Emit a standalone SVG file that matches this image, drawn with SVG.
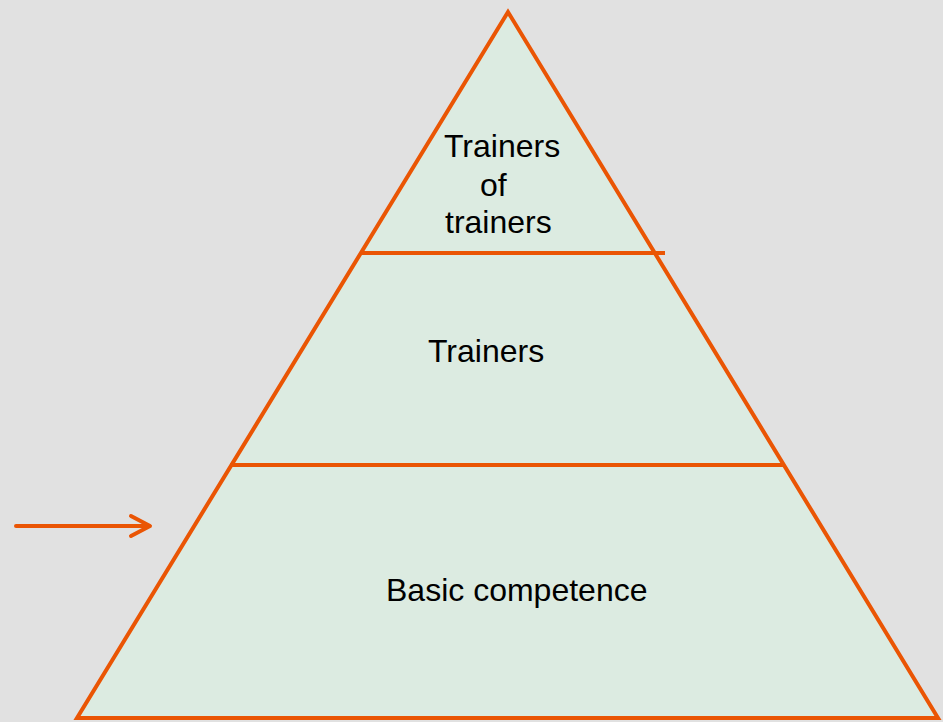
<svg xmlns="http://www.w3.org/2000/svg" width="943" height="722" viewBox="0 0 943 722">
<style>
.ln{stroke:#ea5504;stroke-width:4;fill:none}
.t{font-family:"Liberation Sans",Arial,sans-serif;font-size:32px;fill:#000}
</style>
<rect width="943" height="722" fill="#e1e1e1"/>
<g id="pyramid">
<polygon points="508,12 77,718 938,718" fill="#dcebe1" stroke="#ea5504" stroke-width="4" stroke-linejoin="miter"/>
</g>
<g id="connectors">
<line class="ln" x1="361" y1="253" x2="665" y2="253"/>
<line class="ln" x1="230" y1="465" x2="785" y2="465"/>
<path class="ln" d="M16 526 H148 M131 516 L150 526 L131 536" stroke-linecap="round" stroke-linejoin="round"/>
</g>
<g id="top">
<text class="t" x="444" y="157">Trainers</text>
<text class="t" x="480" y="196">of</text>
<text class="t" x="445" y="233">trainers</text>
</g>
<g id="middle">
<text class="t" x="428" y="362">Trainers</text>
</g>
<g id="bottom">
<text class="t" x="386" y="601">Basic competence</text>
</g>
</svg>
